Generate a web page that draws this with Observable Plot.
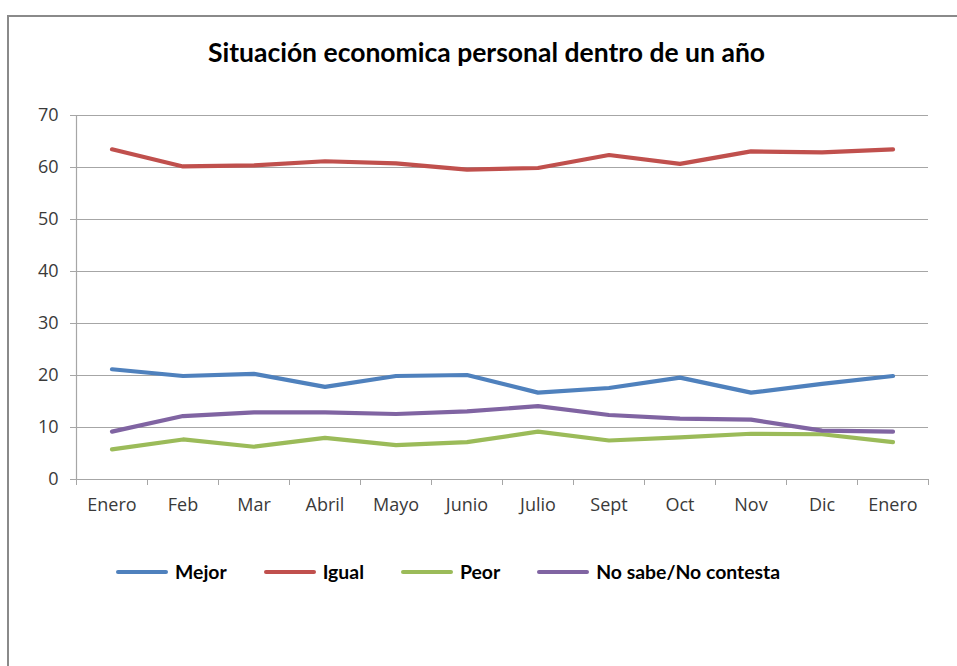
<!DOCTYPE html>
<html>
<head>
<meta charset="utf-8">
<script src="https://cdn.jsdelivr.net/npm/d3@7"></script>
<script src="https://cdn.jsdelivr.net/npm/@observablehq/plot@0.6"></script>
<style>
  body { margin: 0; background: white; }
  #page { position: relative; width: 957px; height: 666px; overflow: hidden; background: white; }
  #frame { position: absolute; left: 7px; top: 15px; width: 980px; height: 700px; z-index: 5;
           pointer-events: none;
           border-left: 2px solid #8a8a8a; border-top: 2px solid #8a8a8a; }
  #title { position: relative; height: 90px; box-sizing: border-box; padding-top: 37px;
           text-align: center; font-family: Lato, "Open Sans", sans-serif; font-weight: 700;
           font-size: 26.5px; line-height: 30px; color: #000; padding-left: 16px; }
  #chart { position: relative; height: 440px; }
  #legend { position: relative; padding-top: 32px; padding-left: 116px; display: flex;
            align-items: center; font-family: Lato, "Open Sans", sans-serif; font-weight: 700;
            font-size: 19.4px; line-height: 20px; color: #000; }
  .item { display: inline-flex; align-items: center; margin-right: 37px; }
  .sw { display: inline-block; width: 52px; height: 4.5px; border-radius: 2.5px; margin-right: 7px; }
</style>
</head>
<body>
<div id="page">
  <div id="frame"></div>
  <div id="title">Situación economica personal dentro de un año</div>
  <div id="chart"></div>
  <div id="legend"></div>
</div>
<script>
const months = ["Enero","Feb","Mar","Abril","Mayo","Junio","Julio","Sept","Oct","Nov","Dic","Enero"];
const seriesNames = ["Mejor","Igual","Peor","No sabe/No contesta"];
const seriesColors = ["#4F81BD","#C0504D","#9BBB59","#8064A2"];
const mejor = [21.2, 19.9, 20.3, 17.8, 19.9, 20.1, 16.7, 17.6, 19.6, 16.7, 18.4, 19.9];
const igual = [63.5, 60.2, 60.4, 61.2, 60.8, 59.6, 59.9, 62.4, 60.7, 63.1, 62.9, 63.5];
const peor  = [5.8, 7.7, 6.3, 8.0, 6.6, 7.2, 9.2, 7.5, 8.1, 8.8, 8.7, 7.2];
const nsnc  = [9.2, 12.2, 12.9, 12.9, 12.6, 13.1, 14.1, 12.4, 11.7, 11.5, 9.4, 9.2];
const yTicks = [0, 10, 20, 30, 40, 50, 60, 70];

const seriesValues = [mejor, igual, peor, nsnc];
const data = seriesNames.flatMap((s, k) => seriesValues[k].map((v, i) => ({serie: s, i, v})));
const idx = months.map((m, i) => i);
const bounds = months.map((m, i) => i - 0.5).concat([months.length - 0.5]);
const gridColor = "#a6a6a6";

const chart = Plot.plot({
  width: 957,
  height: 440,
  marginLeft: 76,
  marginRight: 29,
  marginTop: 25,
  marginBottom: 51,
  x: {type: "linear", domain: [-0.5, months.length - 0.5], label: null},
  y: {domain: [0, 70], label: null},
  color: {domain: seriesNames, range: seriesColors},
  style: {fontFamily: "'Open Sans', sans-serif", fontSize: "18px", color: "#3a3a3a", background: "transparent", overflow: "visible"},
  marks: [
    Plot.gridY(yTicks, {stroke: gridColor, strokeOpacity: 1, strokeWidth: 1.2}),
    Plot.ruleX([-0.5], {stroke: gridColor, strokeWidth: 1.2}),
    Plot.axisY(yTicks, {tickSize: 6, tickPadding: 12, stroke: gridColor, strokeOpacity: 1, fill: "#3a3a3a", label: null}),
    Plot.axisX(bounds, {tickSize: 6, stroke: gridColor, strokeOpacity: 1, tickFormat: () => "", label: null}),
    Plot.axisX(idx, {tickSize: 0, tickPadding: 19, tickFormat: i => months[i], fill: "#3a3a3a", label: null}),
    Plot.line(data, {x: "i", y: "v", stroke: "serie", z: "serie", strokeWidth: 4.2, strokeLinecap: "round", strokeLinejoin: "round"})
  ]
});
document.getElementById("chart").appendChild(chart);

const legend = document.getElementById("legend");
seriesNames.forEach((s, k) => {
  const item = document.createElement("span");
  item.className = "item";
  const sw = document.createElement("span");
  sw.className = "sw";
  sw.style.background = seriesColors[k];
  const t = document.createElement("span");
  t.textContent = s;
  item.appendChild(sw);
  item.appendChild(t);
  legend.appendChild(item);
});
</script>
</body>
</html>
